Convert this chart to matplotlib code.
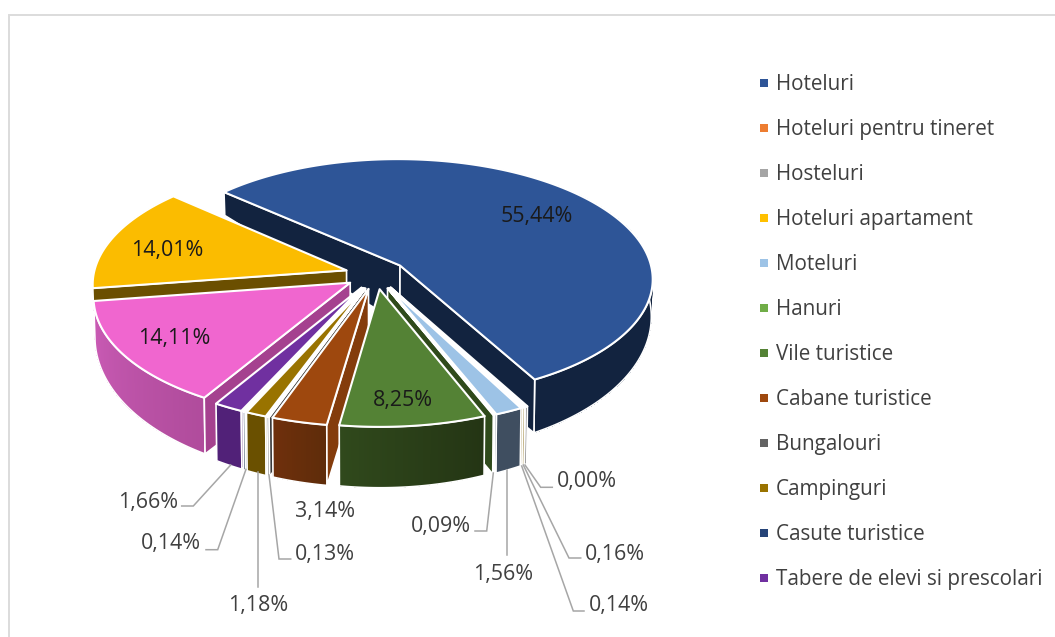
import numpy as np
import matplotlib
matplotlib.use('Agg')  # no display here
import matplotlib.pyplot as plt
from matplotlib.patches import Polygon, Rectangle

plt.rcParams['font.family'] = ['Open Sans', 'DejaVu Sans']

# slices, clockwise from the start of Hoteluri
values = [55.44, 0.00, 0.16, 0.14, 1.56, 0.09, 8.25, 3.14, 0.13, 1.18, 0.14, 1.66, 14.11, 14.01]
top_colors = ['#2E5597', '#ED7D31', '#A5A5A5', '#FFC000', '#9DC3E6', '#3A5A22', '#548235',
              '#9E480E', '#636363', '#997300', '#264478', '#7030A0', '#F066CF', '#FBBC00']
wall_left = ['#12233F', '#7F3F18', '#636363', '#7F6000', '#3F4E60', '#2F4A1B', '#30491C',
             '#6F300C', '#3A3A3A', '#6A5000', '#14264A', '#512178', '#CC5CB7', '#6B4F00']
wall_right = ['#12233F', '#7F3F18', '#636363', '#7F6000', '#3F4E60', '#2F4A1B', '#243514',
              '#5F2C0A', '#3A3A3A', '#6A5000', '#14264A', '#512178', '#B04C9C', '#6B4F00']
side_colors = ['#12233F', '#7F3F18', '#636363', '#7F6000', '#3F4E60', '#2F4A1B', '#2C4A18',
               '#843C0C', '#3A3A3A', '#6A5000', '#14264A', '#512178', '#A5418F', '#6B4F00']

legend_names = ['Hoteluri', 'Hoteluri pentru tineret', 'Hosteluri', 'Hoteluri apartament', 'Moteluri',
                'Hanuri', 'Vile turistice', 'Cabane turistice', 'Bungalouri', 'Campinguri',
                'Casute turistice', 'Tabere de elevi si prescolari']
legend_colors = ['#2E5597', '#ED7D31', '#A5A5A5', '#FFC000', '#9DC3E6', '#70AD47', '#548235',
                 '#9E480E', '#636363', '#997300', '#264478', '#7030A0']

# label position and leader line for each slice, pixels
label_pos = [(537, 216.5), (587, 481.5), (615, 554.5), (619, 605.5), (503, 574.5), (441, 526.5), (403, 400.5),
             (325, 511.5), (325, 554.5), (258, 605.5), (171, 543.5), (148, 502.5), (174, 338.5), (167, 250.5)]
leaders = [None,
           [(552.3, 487.3), (540.7, 487.3), (525, 465)],
           [(580.7, 558), (569, 558), (523.3, 465)],
           [(584, 611), (573.3, 611), (521.7, 466)],
           [(506.7, 555), (506.7, 470)],
           [(475, 531), (486.7, 531), (493.3, 473)],
           None,
           None,
           [(290.7, 559), (279, 559), (269, 475)],
           [(257.7, 586.7), (257.7, 471.7)],
           [(206, 549.7), (217.7, 549.7), (246, 469.3)],
           [(181.7, 506), (193.3, 506), (230.7, 465)],
           None,
           None]
inside = [0, 6, 12, 13]

# 3d look of the pie
CX, CY = 376, 274.5
RX, RY = 253, 119.6
PERSP = 0.107
START = -48.1
EXPLODE = 0.122
BOTTOM_X, BOTTOM_Y, DEPTH = 0.995, 1.16, 36.5
APEX_EXTRA = 23


def project(x, y, bottom=False):
    w = 1 - PERSP * y
    sx, sy = RX * x / w, RY * y / w
    if bottom:
        return CX + BOTTOM_X * sx, CY + DEPTH + BOTTOM_Y * sy
    return CX + sx, CY + sy


def shade(c1, c2, t):
    a, b = np.array(matplotlib.colors.to_rgb(c1)), np.array(matplotlib.colors.to_rgb(c2))
    return a + (b - a) * t


def draw_slice(ax, i, a0, a1):
    mid = np.radians((a0 + a1) / 2)
    ox = EXPLODE * np.sin(mid)
    oy = -EXPLODE * np.cos(mid)
    angles = np.radians(np.linspace(a0, a1, max(int(a1 - a0) * 2, 2) + 1))
    xs, ys = ox + np.sin(angles), oy - np.cos(angles)
    top_arc = [project(x, y) for x, y in zip(xs, ys)]
    bot_arc = [project(x, y, True) for x, y in zip(xs, ys)]
    apex_t = project(ox, oy)
    apex_b = project(ox, oy, True)
    apex_b = (apex_b[0], apex_b[1] + APEX_EXTRA)

    # outer wall: each band runs on to the arc end so no seams show
    n = len(top_arc) - 1
    for k in range(n):
        col = shade(wall_left[i], wall_right[i], 1 - k / max(n - 1, 1))
        ax.add_patch(Polygon(top_arc[k:] + bot_arc[k:][::-1], facecolor=col, edgecolor='none'))
    ax.add_patch(Polygon(top_arc + bot_arc[::-1], facecolor='none', edgecolor='white', lw=1.2))

    # straight walls, only when they face us
    for tp, bp, sign in ((top_arc[0], bot_arc[0], 1), (top_arc[-1], bot_arc[-1], -1)):
        dx1, dy1 = tp[0] - apex_t[0], tp[1] - apex_t[1]
        dx2, dy2 = apex_b[0] - apex_t[0], apex_b[1] - apex_t[1]
        if sign * (dx1 * dy2 - dy1 * dx2) < 0:
            ax.add_patch(Polygon([apex_t, tp, bp, apex_b], facecolor=side_colors[i],
                                 edgecolor='white', lw=1.2, joinstyle='round'))

    ax.add_patch(Polygon([apex_t] + top_arc, facecolor=top_colors[i], edgecolor='white',
                         lw=1.5, joinstyle='round'))


fig = plt.figure(figsize=(10.55, 6.37), dpi=100)
ax = fig.add_axes([0, 0, 1, 1])
ax.set_xlim(0, 1055)
ax.set_ylim(637, 0)
ax.axis('off')

# chart frame, cut by the picture on the right and at the bottom
ax.plot([8.5, 8.5, 1055], [637, 15, 15], color='#DCDCDC', lw=1.4, solid_joinstyle='miter')

# angles from values, back slices get painted first
total = sum(values)
edges = START + np.concatenate([[0], np.cumsum(values)]) * 360 / total
order = sorted(range(len(values)), key=lambda i: -np.cos(np.radians((edges[i] + edges[i + 1]) / 2)))
for i in order:
    if values[i] > 0:
        draw_slice(ax, i, edges[i], edges[i + 1])

for line in leaders:
    if line:
        ax.plot([p[0] for p in line], [p[1] for p in line], color='#A6A6A6', lw=1.1, solid_joinstyle='miter')

for i, v in enumerate(values):
    color = '#1A1A1A' if i in inside else '#404040'
    ax.text(label_pos[i][0], label_pos[i][1], f'{v:.2f}%'.replace('.', ','), ha='center', va='center',
            fontsize=15.4, color=color)

for n, name in enumerate(legend_names):
    y = 84.5 + 45 * n
    ax.add_patch(Rectangle((760, y - 5.2), 8, 8, facecolor=legend_colors[n], edgecolor='none'))
    ax.text(776, y, name, ha='left', va='center', fontsize=14.9, color='#404040')

fig.savefig('out.png', dpi=100)
